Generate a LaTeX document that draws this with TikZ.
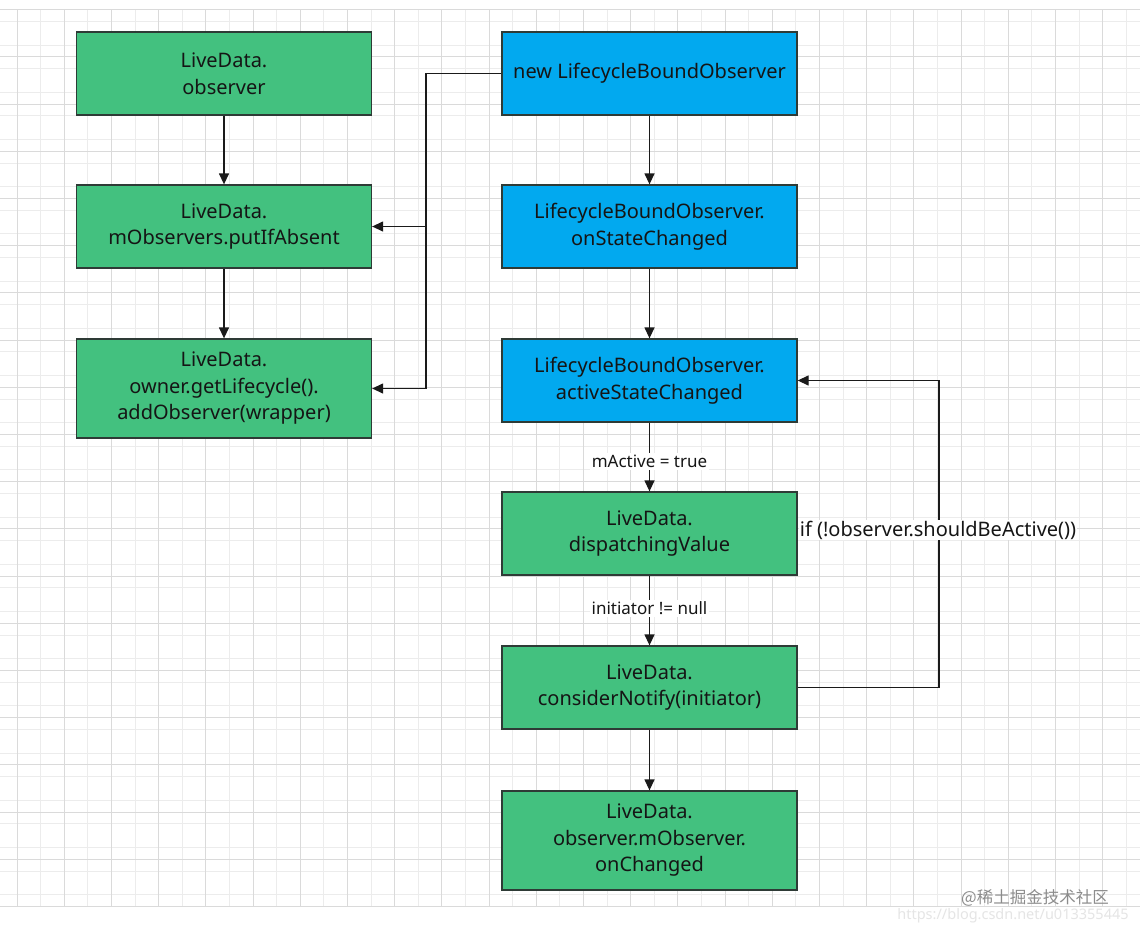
\documentclass[tikz,border=0pt]{standalone}
\usepackage{fontspec}
\setmainfont{Noto Sans}
\newfontfamily\cjkfont{Noto Sans CJK SC}
\usetikzlibrary{arrows.meta}
\definecolor{gfill}{HTML}{43C17F}
\definecolor{bfill}{HTML}{02A9EF}
\definecolor{boxline}{HTML}{2E3B36}
\definecolor{txt}{HTML}{151515}
\definecolor{wire}{HTML}{1A1A1A}
\definecolor{gmajor}{HTML}{DADADA}
\definecolor{gminor}{HTML}{ECECEC}
\begin{document}
\begin{tikzpicture}[x=1pt,y=-1pt,
  box/.style={draw=boxline, line width=1.3pt, inner sep=0pt, align=center, text=txt,
    font=\fontsize{20}{26.5}\selectfont, minimum width=295pt},
  gbox/.style={box, fill=gfill},
  bluebox/.style={box, fill=bfill},
  twoline/.style={minimum height=83pt},
  threeline/.style={minimum height=99pt},
  arr/.style={draw=wire, line width=1.3pt, -{Triangle[length=11pt,width=10pt]}},
  wireline/.style={draw=wire, line width=1.3pt},
  elabel/.style={fill=white, inner sep=2pt, text=txt, font=\fontsize{17}{20}\selectfont}
]
\useasboundingbox (0,0) rectangle (1140,935);
\fill[white] (0,0) rectangle (1140,935);
% grid
\foreach \k in {0,...,37} {
  \draw[gminor, line width=0.8pt] (0,{9.5+23.6*\k+11.8}) -- (1140,{9.5+23.6*\k+11.8});
}
\foreach \k in {0,...,23} {
  \draw[gminor, line width=0.8pt] ({17+47.2*\k+23.6},9.5) -- ({17+47.2*\k+23.6},906.3);
}
\foreach \k in {0,...,19} {
  \draw[gmajor, line width=0.8pt] (0,{9.5+47.2*\k}) -- (1140,{9.5+47.2*\k});
}
\foreach \k in {0,...,23} {
  \draw[gmajor, line width=0.8pt] ({17+47.2*\k},9.5) -- ({17+47.2*\k},906.3);
}

% left column
\node[gbox, twoline] (a1) at (224,73.5) {LiveData.\\observer};
\node[gbox, twoline] (a2) at (224,226.5) {LiveData.\\mObservers.putIfAbsent};
\node[gbox, threeline] (a3) at (224,388.5) {LiveData.\\owner.getLifecycle().\\addObserver(wrapper)};

% right column
\node[bluebox, twoline] (b1) at (649.5,73.5) {new LifecycleBoundObserver};
\node[bluebox, twoline] (b2) at (649.5,226.5) {LifecycleBoundObserver.\\onStateChanged};
\node[bluebox, twoline] (b3) at (649.5,380.5) {LifecycleBoundObserver.\\activeStateChanged};
\node[gbox, twoline] (b4) at (649.5,533.5) {LiveData.\\dispatchingValue};
\node[gbox, twoline] (b5) at (649.5,687.5) {LiveData.\\considerNotify(initiator)};
\node[gbox, threeline] (b6) at (649.5,840.5) {LiveData.\\observer.mObserver.\\onChanged};

\coordinate (j1) at (426,73.5);
\coordinate (j2) at (426,226.5);
\coordinate (j3) at (426,388.5);
\coordinate (r1) at (939,687.5);
\coordinate (r2) at (939,380.5);

\draw[arr] (a1) -- (a2);
\draw[arr] (a2) -- (a3);
\draw[arr] (b1) -- (b2);
\draw[arr] (b2) -- (b3);
\draw[arr] (b3) -- (b4) node[elabel, pos=0.57] (l1) {mActive = true};
\draw[arr] (b4) -- (b5) node[elabel, pos=0.47] (l2) {initiator != null};
\draw[arr] (b5) -- (b6);

\draw[wireline] (b1.west) -- (j1) -- (j3);
\draw[arr] (j2) -- (a2.east);
\draw[arr] (j3) -- (a3.east);

\draw[arr] (b5.east) -- (r1) -- (r2) -- (b3.east);
\node[elabel, inner sep=1pt, font=\fontsize{20}{24}\selectfont] (l3) at (938,530) {if (!observer.shouldBeActive())};

% watermark
\node[text=black!45, font=\cjkfont\fontsize{16.5}{20}\selectfont, inner sep=0pt] (wm1) at (1035,898) {@稀土掘金技术社区};
\node[text=black!10, font=\fontsize{14.5}{17}\selectfont, inner sep=0pt] (wm2) at (1013,916) {https://blog.csdn.net/u013355445};
\end{tikzpicture}
\end{document}
